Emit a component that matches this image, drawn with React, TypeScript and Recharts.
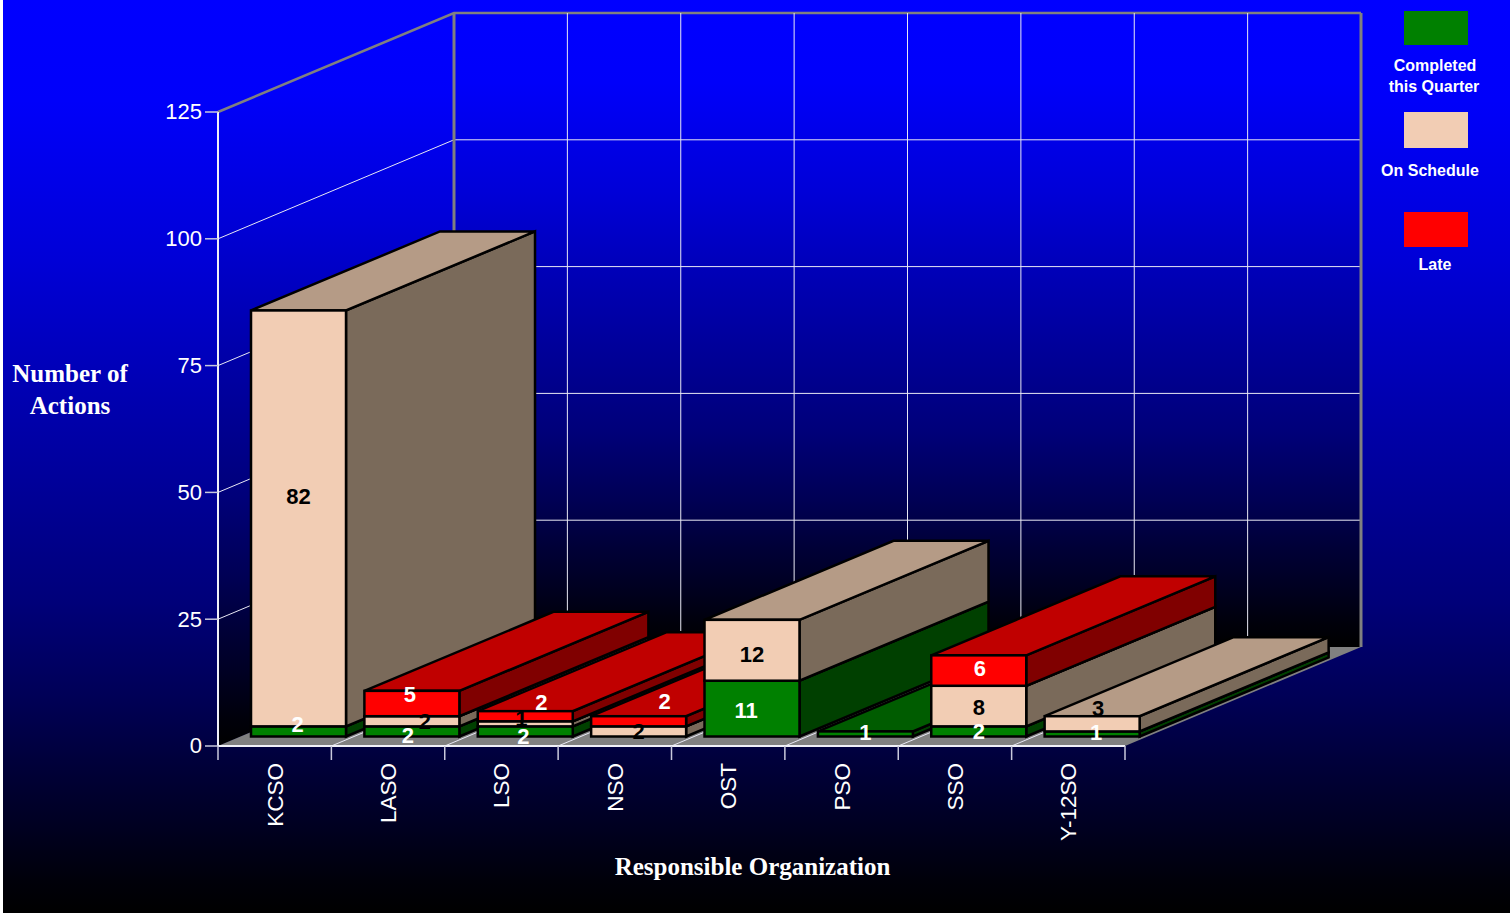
import { Bar, BarChart, CartesianGrid, LabelList, Legend, XAxis, YAxis } from 'recharts';

const organizations = ['KCSO', 'LASO', 'LSO', 'NSO', 'OST', 'PSO', 'SSO', 'Y-12SO'];
const completed = [2, 2, 2, 0, 11, 1, 2, 1];
const onSchedule = [82, 2, 1, 2, 12, 0, 8, 3];
const late = [0, 5, 2, 2, 0, 0, 6, 0];
const yTicks = [0, 25, 50, 75, 100, 125];

const rows = organizations.map((org, i) => ({
  org,
  completed: completed[i],
  onSchedule: onSchedule[i],
  late: late[i],
}));

type Status = 'completed' | 'onSchedule' | 'late';
const statuses: Status[] = ['completed', 'onSchedule', 'late'];

// One Bar per organization and status, so each stack paints whole and left to right
const layers = organizations.flatMap((org) =>
  statuses.map((status) => ({
    id: `${org}-${status}`,
    status,
    value: (row: (typeof rows)[number]) => (row.org === org ? row[status] : 0),
  })),
);

const WIDTH = 1510;
const HEIGHT = 913;
const PLOT = { left: 218, right: 1125, top: 112, bottom: 746 };
const BAND = (PLOT.right - PLOT.left) / organizations.length;

// Box projection: the floor runs up and to the right
const WALL_DX = 236;
const WALL_DY = -99;
const FRONT_DX = 23.6;
const FRONT_DY = -9.5;
const DEPTH_DX = 189;
const DEPTH_DY = -79;

const SHADES = {
  completed: { front: '#008000', top: '#005c00', side: '#004000' },
  onSchedule: { front: '#f2cdb4', top: '#b59b86', side: '#7a6a5a' },
  late: { front: '#ff0000', top: '#c00000', side: '#800000' },
};

// Hand placement of value labels relative to the front face centre
const LABEL_NUDGE = {
  completed: [[-1, -7], [-4, 4], [-2, 5], [0, 0], [-6, 2], [0, -1], [0, 0], [4, -1]],
  onSchedule: [[0, -22], [13, 0], [-4, -5], [0, 0], [0, 4], [0, 0], [0, 1], [6, -15]],
  late: [[0, 0], [-2, -9], [16, -14], [26, -20], [0, 0], [0, 0], [1, -2], [0, 0]],
};

const LABEL_COLOR = { completed: '#fff', onSchedule: '#000', late: '#fff' };

const LEGEND_ROWS = [
  { swatchTop: 11, swatchHeight: 34, lines: [{ text: 'Completed', x: 1435, y: 65 }, { text: 'this Quarter', x: 1434, y: 86 }] },
  { swatchTop: 112, swatchHeight: 36, lines: [{ text: 'On Schedule', x: 1430, y: 170 }] },
  { swatchTop: 212, swatchHeight: 35, lines: [{ text: 'Late', x: 1435, y: 264 }] },
];

// Blue-to-black fade used by the page and both walls
const FADE: [number, string][] = [
  [0, '#0000ff'],
  [0.11, '#0000fa'],
  [0.285, '#0000d7'],
  [0.44, '#0000af'],
  [0.657, '#00007a'],
  [0.767, '#000055'],
  [0.83, '#00003c'],
  [0.9, '#000023'],
  [0.964, '#00000a'],
  [1, '#000000'],
];

const SANS = '"Liberation Sans", Arial, sans-serif';
const SERIF = '"Liberation Serif", "Times New Roman", serif';
const GRID = '#e8e8f4';
const EDGE = '#808080';

const pts = (list: number[][]) => list.map((p) => p.join(',')).join(' ');

function makeBlock(status: Status) {
  const shade = SHADES[status];
  return function Block(props: any) {
    const { x, y, width, height } = props;
    if (!height || height <= 0) return <g />;
    const l = x + FRONT_DX;
    const r = l + width;
    const t = y + FRONT_DY;
    const b = t + height;
    const common = { stroke: '#000', strokeWidth: 2.5, strokeLinejoin: 'miter' as const };
    return (
      <g>
        <polygon
          points={pts([[r, t], [r + DEPTH_DX, t + DEPTH_DY], [r + DEPTH_DX, b + DEPTH_DY], [r, b]])}
          fill={shade.side}
          {...common}
        />
        <polygon
          points={pts([[l, t], [l + DEPTH_DX, t + DEPTH_DY], [r + DEPTH_DX, t + DEPTH_DY], [r, t]])}
          fill={shade.top}
          {...common}
        />
        <rect x={l} y={t} width={width} height={height} fill={shade.front} {...common} />
      </g>
    );
  };
}

function makeValueLabel(status: Status) {
  return function ValueLabel(props: any) {
    const box = props.viewBox ?? props;
    const { index, value } = props;
    if (!value) return null;
    const [dx, dy] = LABEL_NUDGE[status][index];
    return (
      <text
        x={box.x + FRONT_DX + box.width / 2 + dx}
        y={box.y + FRONT_DY + box.height / 2 + dy}
        textAnchor="middle"
        dominantBaseline="central"
        fontFamily={SANS}
        fontWeight="bold"
        fontSize={22}
        fill={LABEL_COLOR[status]}
      >
        {value}
      </text>
    );
  };
}

const blocks = {
  completed: makeBlock('completed'),
  onSchedule: makeBlock('onSchedule'),
  late: makeBlock('late'),
};
const valueLabels = {
  completed: makeValueLabel('completed'),
  onSchedule: makeValueLabel('onSchedule'),
  late: makeValueLabel('late'),
};

function HorizontalLine(props: any) {
  const { x1, x2, y1, index } = props;
  const isFloor = Math.abs(y1 - PLOT.bottom) < 1;
  const isTop = Math.abs(y1 - PLOT.top) < 1;
  const wx = x1 + WALL_DX;
  const wy = y1 + WALL_DY;
  return (
    <g key={index}>
      {!isFloor && (
        <polyline
          points={pts([[x1, y1], [wx, wy], [x2 + WALL_DX, wy]])}
          fill="none"
          stroke={isTop ? EDGE : GRID}
          strokeWidth={isTop ? 2.5 : 1}
        />
      )}
    </g>
  );
}

// The grid hands over the plot edges and the band centres; lines sit on the band boundaries
function VerticalLine(props: any) {
  const { x1, index } = props;
  const wy0 = PLOT.bottom + WALL_DY;
  const wy1 = PLOT.top + WALL_DY;
  const isEdge = Math.abs(x1 - PLOT.left) < 1 || Math.abs(x1 - PLOT.right) < 1;
  const x = isEdge ? x1 : x1 - BAND / 2;
  if (!isEdge && Math.abs(x - PLOT.left) < 1) return <g key={index} />;
  return (
    <g key={index}>
      {!isEdge && <line x1={x} y1={PLOT.bottom} x2={x + WALL_DX} y2={wy0} stroke={GRID} strokeWidth={1} />}
      <line
        x1={x + WALL_DX}
        y1={wy0}
        x2={x + WALL_DX}
        y2={wy1}
        stroke={isEdge ? EDGE : GRID}
        strokeWidth={isEdge ? 3 : 1}
      />
    </g>
  );
}

function fadeStops() {
  return FADE.map(([offset, color]) => <stop key={offset} offset={offset} stopColor={color} />);
}

function WallsAndFloor() {
  const { left, right, top, bottom } = PLOT;
  return (
    <g>
      <defs>
        <linearGradient id="backWall" x1="0" y1={top + WALL_DY} x2="0" y2={bottom + WALL_DY} gradientUnits="userSpaceOnUse">
          {fadeStops()}
        </linearGradient>
        <linearGradient id="sideWall" x1="0" y1={top + WALL_DY} x2="0" y2={bottom} gradientUnits="userSpaceOnUse">
          {fadeStops()}
        </linearGradient>
      </defs>
      <polygon
        points={pts([[left, top], [left + WALL_DX, top + WALL_DY], [left + WALL_DX, bottom + WALL_DY], [left, bottom]])}
        fill="url(#sideWall)"
      />
      <rect x={left + WALL_DX} y={top + WALL_DY} width={right - left} height={bottom - top} fill="url(#backWall)" />
      <polygon
        points={pts([[left, bottom], [right, bottom], [right + WALL_DX, bottom + WALL_DY], [left + WALL_DX, bottom + WALL_DY]])}
        fill="#808080"
      />
    </g>
  );
}

function OrgTick(props: any) {
  const { x, payload, index } = props;
  const left = x - BAND / 2;
  const tickProps = { y1: PLOT.bottom, y2: PLOT.bottom + 14, stroke: '#c8c8dc', strokeWidth: 1.5 };
  const lx = x + 0.5;
  return (
    <g>
      <line x1={left} x2={left} {...tickProps} />
      {index === organizations.length - 1 && <line x1={left + BAND} x2={left + BAND} {...tickProps} />}
      <text
        x={lx}
        y={763}
        transform={`rotate(-90 ${lx} 763)`}
        textAnchor="end"
        dominantBaseline="central"
        fontFamily={SANS}
        fontSize={22.5}
        fill="#fff"
      >
        {payload.value}
      </text>
    </g>
  );
}

function LegendPanel() {
  return (
    <svg width={WIDTH} height={HEIGHT} style={{ position: 'absolute', left: 0, top: 0 }}>
      {LEGEND_ROWS.map((row, i) => (
        <g key={i}>
          <rect x={1404} y={row.swatchTop} width={64} height={row.swatchHeight} fill={SHADES[statuses[i]].front} />
          {row.lines.map((line) => (
            <text
              key={line.text}
              x={line.x}
              y={line.y}
              textAnchor="middle"
              dominantBaseline="central"
              fontFamily={SANS}
              fontWeight="bold"
              fontSize={16}
              fill="#fff"
            >
              {line.text}
            </text>
          ))}
        </g>
      ))}
    </svg>
  );
}

const titleStyle = { fontFamily: SERIF, fontWeight: 'bold', fontSize: 25, fill: '#fff' } as const;
const pageFade = `linear-gradient(${FADE.map(([o, c]) => `${c} ${o * 100}%`).join(', ')})`;

export default function App() {
  return (
    <div style={{ position: 'absolute', left: 0, top: 0, width: WIDTH, height: HEIGHT, background: '#fff', overflow: 'hidden' }}>
      <div style={{ position: 'absolute', left: 3, top: 0, right: 0, bottom: 0, background: pageFade }} />
      <div style={{ position: 'absolute', left: 0, top: 0 }}>
        <BarChart
          width={WIDTH}
          height={HEIGHT}
          data={rows}
          margin={{ top: PLOT.top, right: WIDTH - PLOT.right, bottom: 0, left: 0 }}
          barCategoryGap="8.3%"
        >
          <CartesianGrid
            stroke="none"
            horizontal={(props: any) =>
              props.index === 0 ? (
                <g key="base">
                  <WallsAndFloor />
                  <HorizontalLine {...props} />
                </g>
              ) : (
                <HorizontalLine {...props} />
              )
            }
            vertical={(props: any) => <VerticalLine {...props} />}
          />
          <XAxis
            dataKey="org"
            height={HEIGHT - PLOT.bottom}
            interval={0}
            tickLine={false}
            tickSize={0}
            tickMargin={0}
            axisLine={{ stroke: '#f0f0f8', strokeWidth: 2 }}
            tick={<OrgTick />}
            label={{ value: 'Responsible Organization', position: 'insideBottom', offset: 38, ...titleStyle, dx: 81 }}
          />
          <YAxis
            width={PLOT.left}
            domain={[0, 125]}
            ticks={yTicks}
            tickSize={13}
            tickMargin={3}
            tickLine={{ stroke: '#c8c8dc', strokeWidth: 1.5 }}
            axisLine={{ stroke: '#f0f0f8', strokeWidth: 2 }}
            tick={{ fontFamily: SANS, fontSize: 22, fill: '#fff', dy: -0.5 }}
            label={() => (
              <text textAnchor="middle" {...titleStyle}>
                <tspan x={70} y={382}>Number of</tspan>
                <tspan x={70} y={414}>Actions</tspan>
              </text>
            )}
          />
          <Legend
            layout="horizontal"
            align="center"
            verticalAlign="middle"
            wrapperStyle={{ left: 0, top: 0, width: 0, height: 0 }}
            content={<LegendPanel />}
          />
          {layers.map((layer) => (
            <Bar
              key={layer.id}
              dataKey={layer.value}
              stackId="status"
              fill={SHADES[layer.status].front}
              shape={blocks[layer.status]}
              isAnimationActive={false}
            >
              <LabelList dataKey={layer.value} content={valueLabels[layer.status]} />
            </Bar>
          ))}
        </BarChart>
      </div>
    </div>
  );
}
